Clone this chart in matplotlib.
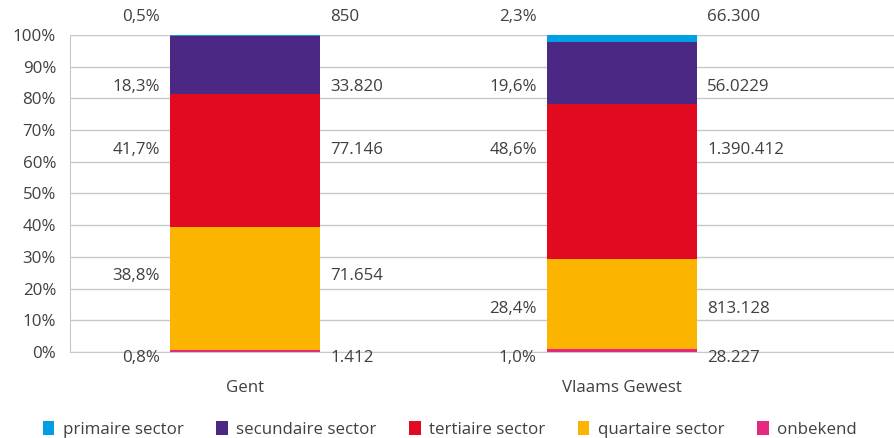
import matplotlib
matplotlib.use("Agg")
from matplotlib import pyplot as plt
from matplotlib.patches import Patch
import numpy as np

# data
regions = ["Gent", "Vlaams Gewest"]
sectors = ["primaire sector", "secundaire sector", "tertiaire sector",
           "quartaire sector", "onbekend"]
counts = {
    "Gent": [850, 33820, 77146, 71654, 1412],
    "Vlaams Gewest": [66300, 560229, 1390412, 813128, 28227],
}
pct_labels = {
    "Gent": ["0,5%", "18,3%", "41,7%", "38,8%", "0,8%"],
    "Vlaams Gewest": ["2,3%", "19,6%", "48,6%", "28,4%", "1,0%"],
}
count_labels = {
    "Gent": ["850", "33.820", "77.146", "71.654", "1.412"],
    "Vlaams Gewest": ["66.300", "56.0229", "1.390.412", "813.128", "28.227"],
}

colors = ["#009FE3", "#4A2884", "#E20A20", "#FBB400", "#E6287F"]
# where the value labels sit (in % of axis), per region
label_y = {
    "Gent": [105.7, 83.6, 63.7, 24.0, -1.9],
    "Vlaams Gewest": [105.7, 83.6, 63.7, 13.6, -1.9],
}

plt.rcParams['font.family'] = ['Open Sans', 'DejaVu Sans']
txt = "#404040"
fs = 12.2

fig = plt.figure(figsize=(8.94, 4.38), dpi=100)
ax = fig.add_axes([70 / 894, 1 - 352 / 438, 1 - 70 / 894, 317 / 438])

x = np.arange(len(regions))
width = 0.398
for i, reg in enumerate(regions):
    vals = np.array(counts[reg], dtype=float)
    share = vals / vals.sum() * 100
    # stack from the bottom: onbekend first
    bottom = 0.0
    for j in reversed(range(len(sectors))):
        ax.bar(x[i], share[j], width, bottom=bottom, color=colors[j], zorder=3)
        bottom += share[j]
    for j in range(len(sectors)):
        ax.text(x[i] - width / 2 - 0.027, label_y[reg][j], pct_labels[reg][j],
                ha="right", va="center", fontsize=fs, color=txt)
        ax.text(x[i] + width / 2 + 0.027, label_y[reg][j], count_labels[reg][j],
                ha="left", va="center", fontsize=fs, color=txt)

ax.set_ylim(0, 100)
ax.set_xlim(-175 / 377, 1 + 272 / 377)
ax.set_yticks(np.arange(0, 101, 10))
ax.set_yticklabels([f"{v}%" for v in range(0, 101, 10)], fontsize=fs, color=txt)
ax.set_xticks(x)
ax.set_xticklabels(regions, fontsize=fs, color=txt)
ax.tick_params(axis="x", length=0, pad=20)
ax.tick_params(axis="y", length=0, pad=10)
ax.grid(axis="y", color="#c8c8c8", linewidth=1, zorder=0)
for s in ["top", "right"]:
    ax.spines[s].set_visible(False)
for s in ["left", "bottom"]:
    ax.spines[s].set_color("#c8c8c8")
ax.set_axisbelow(True)

handles = [Patch(facecolor=c, label=s) for c, s in zip(colors, sectors)]
fig.legend(handles=handles, loc="lower center", bbox_to_anchor=(0.503, -0.035),
           ncol=5, frameon=False, fontsize=fs, handlelength=0.7,
           handleheight=0.9, handletextpad=0.5, columnspacing=1.9,
           labelcolor=txt)

fig.savefig("out.png", dpi=100)
